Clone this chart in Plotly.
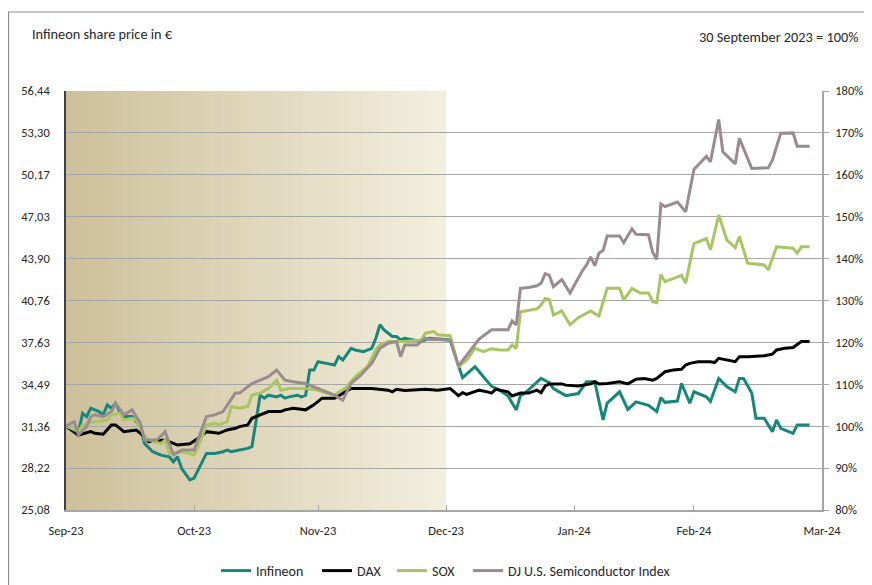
import plotly.graph_objects as go
import pandas as pd

# ---------------- data (30 September 2023 = 100%) ----------------
inf_dates = ["2023-09-30","2023-10-03","2023-10-04","2023-10-05","2023-10-06","2023-10-08","2023-10-09",
             "2023-10-10","2023-10-11","2023-10-12","2023-10-13","2023-10-14","2023-10-16","2023-10-18",
             "2023-10-19","2023-10-21","2023-10-23","2023-10-25","2023-10-26","2023-10-27","2023-10-28",
             "2023-10-30","2023-10-31","2023-11-01","2023-11-03","2023-11-05","2023-11-07","2023-11-08",
             "2023-11-09","2023-11-11","2023-11-13","2023-11-14","2023-11-15","2023-11-16","2023-11-17",
             "2023-11-18","2023-11-20","2023-11-21","2023-11-22","2023-11-23","2023-11-25","2023-11-26",
             "2023-11-27","2023-11-28","2023-11-29","2023-11-30","2023-12-02","2023-12-04","2023-12-05",
             "2023-12-06","2023-12-08","2023-12-09","2023-12-11","2023-12-13","2023-12-14","2023-12-15",
             "2023-12-16","2023-12-18","2023-12-19","2023-12-20","2023-12-21","2023-12-25","2023-12-27",
             "2024-01-01","2024-01-03","2024-01-04","2024-01-07","2024-01-11","2024-01-13","2024-01-15",
             "2024-01-17","2024-01-18","2024-01-19","2024-01-23","2024-01-25","2024-01-26","2024-01-29",
             "2024-02-01","2024-02-03","2024-02-05","2024-02-07","2024-02-08","2024-02-11","2024-02-13",
             "2024-02-15","2024-02-18","2024-02-20","2024-02-21","2024-02-22","2024-02-25","2024-02-26",
             "2024-02-28","2024-02-29","2024-03-03","2024-03-04","2024-03-06","2024-03-08","2024-03-10",
             "2024-03-11","2024-03-12","2024-03-14","2024-03-15","2024-03-17","2024-03-19","2024-03-20",
             "2024-03-21","2024-03-24","2024-03-25","2024-03-28"]
inf_vals = [100.0,98.3,103.1,102.3,104.3,103.5,102.7,
            105.1,104.3,105.5,103.5,102.3,102.3,99.9,
            95.9,93.9,93.1,92.7,91.5,92.7,89.9,
            87.2,87.6,89.5,93.5,93.5,93.9,94.3,
            93.9,94.3,94.7,95.1,101.5,107.4,106.7,
            107.4,107.0,107.4,106.7,107.0,107.4,107.0,
            107.4,113.4,113.4,115.4,115.0,114.6,116.6,
            115.8,118.6,118.2,117.8,118.6,121.0,124.2,
            123.0,121.4,121.4,120.6,121.0,120.2,121.0,
            120.6,114.4,111.6,114.2,109.5,108.6,107.2,
            103.9,107.3,107.8,111.4,110.4,109.0,107.3,
            107.8,110.6,110.6,101.5,105.5,108.2,104.0,
            105.8,105.0,103.5,106.8,105.7,106.0,110.2,
            105.5,108.2,107.0,105.9,111.4,109.4,108.2,
            111.4,111.4,107.9,101.9,101.9,98.7,101.5,
            99.5,98.3,100.3,100.3]

dax_dates = ["2023-09-30","2023-10-03","2023-10-06","2023-10-07","2023-10-09","2023-10-11","2023-10-12",
             "2023-10-14","2023-10-17","2023-10-19","2023-10-20","2023-10-24","2023-10-26","2023-10-27",
             "2023-10-30","2023-11-01","2023-11-03","2023-11-06","2023-11-08","2023-11-10","2023-11-11",
             "2023-11-13","2023-11-14","2023-11-16","2023-11-18","2023-11-21","2023-11-22","2023-11-24",
             "2023-11-27","2023-11-29","2023-12-01","2023-12-04","2023-12-06","2023-12-08","2023-12-13",
             "2023-12-17","2023-12-18","2023-12-19","2023-12-21","2023-12-25","2023-12-26","2023-12-29",
             "2024-01-01","2024-01-03","2024-01-04","2024-01-05","2024-01-08","2024-01-10","2024-01-11",
             "2024-01-12","2024-01-15","2024-01-16","2024-01-18","2024-01-20","2024-01-22","2024-01-23",
             "2024-01-24","2024-01-25","2024-01-28","2024-01-29","2024-02-01","2024-02-04","2024-02-05",
             "2024-02-06","2024-02-08","2024-02-11","2024-02-13","2024-02-15","2024-02-17","2024-02-19",
             "2024-02-20","2024-02-22","2024-02-24","2024-02-26","2024-02-27","2024-02-28","2024-03-01",
             "2024-03-04","2024-03-05","2024-03-06","2024-03-08","2024-03-10","2024-03-11","2024-03-13",
             "2024-03-17","2024-03-19","2024-03-20","2024-03-22","2024-03-24","2024-03-25","2024-03-26",
             "2024-03-28"]
dax_vals = [100.0,97.9,98.7,98.3,98.1,100.3,100.3,
            98.7,99.1,97.5,96.3,96.7,95.9,95.5,
            95.8,97.1,98.7,98.3,99.1,99.5,99.9,
            100.3,101.9,102.7,103.5,103.5,103.9,104.3,
            103.9,105.1,106.7,106.7,107.9,109.0,109.0,
            108.6,108.2,108.8,108.5,108.6,108.8,108.6,
            109.0,107.3,108.0,107.6,108.6,108.2,107.9,
            108.8,108.2,107.2,107.9,107.9,108.6,108.0,
            109.6,110.1,110.1,109.8,109.6,110.1,110.6,
            110.1,110.2,110.6,110.1,111.2,111.4,111.0,
            111.4,113.0,113.4,113.6,114.6,115.0,115.4,
            115.4,115.2,116.2,115.8,115.4,116.6,116.6,
            116.8,117.2,118.2,118.6,118.8,119.6,120.2,
            120.2]

sox_dates = ["2023-09-30","2023-10-03","2023-10-04","2023-10-07","2023-10-08","2023-10-10","2023-10-11",
             "2023-10-13","2023-10-14","2023-10-16","2023-10-17","2023-10-19","2023-10-21","2023-10-23",
             "2023-10-24","2023-10-25","2023-10-28","2023-10-30","2023-10-31","2023-11-01","2023-11-03",
             "2023-11-05","2023-11-06","2023-11-08","2023-11-09","2023-11-11","2023-11-13","2023-11-14",
             "2023-11-16","2023-11-18","2023-11-20","2023-11-21","2023-11-23","2023-11-27","2023-11-30",
             "2023-12-02","2023-12-04","2023-12-07","2023-12-09","2023-12-12","2023-12-14","2023-12-15",
             "2023-12-17","2023-12-21","2023-12-25","2023-12-26","2023-12-28","2023-12-29","2024-01-01",
             "2024-01-03","2024-01-05","2024-01-07","2024-01-09","2024-01-11","2024-01-13","2024-01-15",
             "2024-01-16","2024-01-17","2024-01-18","2024-01-22","2024-01-23","2024-01-24","2024-01-25",
             "2024-01-26","2024-01-28","2024-01-30","2024-02-01","2024-02-04","2024-02-06","2024-02-08",
             "2024-02-11","2024-02-12","2024-02-14","2024-02-16","2024-02-18","2024-02-19","2024-02-20",
             "2024-02-21","2024-02-22","2024-02-26","2024-02-27","2024-02-29","2024-03-03","2024-03-04",
             "2024-03-06","2024-03-08","2024-03-10","2024-03-11","2024-03-13","2024-03-16","2024-03-17",
             "2024-03-18","2024-03-20","2024-03-24","2024-03-25","2024-03-26","2024-03-28"]
sox_vals = [100.0,98.7,100.3,101.1,101.1,101.5,102.7,
            103.1,101.5,101.9,101.5,97.5,96.3,95.9,
            96.7,93.5,93.9,93.5,93.1,95.1,100.3,
            100.7,100.3,101.1,104.7,104.3,104.7,107.4,
            107.9,109.0,111.0,108.6,109.0,109.0,108.6,
            107.9,107.4,109.4,111.8,114.2,118.2,119.4,
            120.2,120.2,120.6,122.2,122.6,121.8,121.6,
            114.2,115.8,118.6,117.8,118.5,118.2,118.2,
            119.4,118.5,127.3,128.0,128.9,130.5,130.2,
            126.5,127.5,124.2,125.9,127.5,126.3,132.9,
            132.9,130.1,132.9,131.8,131.8,129.7,129.5,
            136.2,134.5,136.0,134.1,143.6,144.8,142.1,
            150.4,144.4,142.6,145.3,138.9,138.6,138.5,
            137.3,142.8,142.5,141.3,142.8,142.8]

dj_dates = ["2023-09-30","2023-10-02","2023-10-03","2023-10-05","2023-10-06","2023-10-07","2023-10-09",
            "2023-10-11","2023-10-12","2023-10-14","2023-10-16","2023-10-18","2023-10-19","2023-10-22",
            "2023-10-24","2023-10-26","2023-10-28","2023-10-31","2023-11-03","2023-11-05","2023-11-07",
            "2023-11-10","2023-11-11","2023-11-14","2023-11-16","2023-11-18","2023-11-20","2023-11-22",
            "2023-11-24","2023-11-27","2023-11-29","2023-11-30","2023-12-04","2023-12-06","2023-12-08",
            "2023-12-10","2023-12-13","2023-12-15","2023-12-17","2023-12-19","2023-12-20","2023-12-21",
            "2023-12-24","2023-12-26","2023-12-27","2023-12-29","2024-01-01","2024-01-03","2024-01-05",
            "2024-01-08","2024-01-11","2024-01-15","2024-01-16","2024-01-17","2024-01-18","2024-01-20",
            "2024-01-22","2024-01-23","2024-01-24","2024-01-25","2024-01-26","2024-01-28","2024-01-30",
            "2024-02-02","2024-02-03","2024-02-04","2024-02-05","2024-02-06","2024-02-07","2024-02-08",
            "2024-02-11","2024-02-12","2024-02-14","2024-02-15","2024-02-18","2024-02-19","2024-02-20",
            "2024-02-21","2024-02-22","2024-02-25","2024-02-27","2024-02-29","2024-03-03","2024-03-04",
            "2024-03-06","2024-03-07","2024-03-10","2024-03-11","2024-03-14","2024-03-18","2024-03-19",
            "2024-03-21","2024-03-24","2024-03-25","2024-03-28"]
dj_vals = [100.0,101.1,97.9,99.9,102.3,102.7,102.3,
           103.5,105.5,102.7,103.9,100.7,96.7,96.7,
           98.7,93.1,94.3,94.3,102.3,102.7,103.5,
           107.9,107.9,110.2,111.0,111.8,113.4,111.0,
           110.6,110.2,109.4,109.0,107.4,106.2,110.2,
           111.8,115.0,118.6,119.8,120.2,116.6,119.4,
           119.4,121.0,120.7,120.7,120.5,114.4,117.0,
           120.8,123.0,123.0,125.1,124.2,132.9,133.1,
           133.5,134.1,136.4,136.0,133.3,135.0,131.8,
           137.1,138.5,140.4,138.3,141.3,141.9,145.4,
           145.4,143.8,147.1,145.8,145.7,141.5,139.8,
           153.0,152.4,153.5,151.2,161.3,164.4,163.1,
           173.2,165.5,162.6,168.7,161.5,161.7,163.5,
           169.9,170.0,166.8,166.8]

series_names = ["Infineon", "DAX", "SOX", "DJ U.S. Semiconductor Index"]
series_colors = ["#16877a", "#000000", "#a9c462", "#9a8b8f"]

pct_ticks = [80, 90, 100, 110, 120, 130, 140, 150, 160, 170, 180]
eur_labels = ["25,08", "28,22", "31,36", "34,49", "37,63", "40,76", "43,90",
              "47,03", "50,17", "53,30", "56,44"]
pct_labels = [f"{v}%" for v in pct_ticks]

x_tick_dates = ["2023-09-30", "2023-10-31", "2023-11-30", "2023-12-31",
                "2024-01-31", "2024-02-29", "2024-03-31"]
x_tick_labels = ["Sep-23", "Oct-23", "Nov-23", "Dec-23", "Jan-24", "Feb-24", "Mar-24"]

shade_start, shade_end = "2023-09-30", "2023-12-31"

# ---------------- figure ----------------
FONT = "Carlito, Calibri, Lato, 'Open Sans', sans-serif"
TXT = "#262626"

# page body has an 8px margin -> figure is 8px smaller, screen px = 8 + figure px
W, H = 864, 577
PL, PR, PT, PB = 66, 822, 91, 510          # plot area in screen pixels
PW, PH = PR - PL, PB - PT


def px_x(sx):
    return (sx - PL) / PW


def px_y(sy):
    return (PB - sy) / PH


legend_ids = ["legend", "legend2", "legend3", "legend4"]
legend_left = [221, 322, 397, 473]   # screen x of each legend entry's line sample

fig = go.Figure()
all_x = [inf_dates, dax_dates, sox_dates, dj_dates]
all_y = [inf_vals, dax_vals, sox_vals, dj_vals]
for name, xs, ys, col, lg in zip(series_names, all_x, all_y, series_colors, legend_ids):
    fig.add_trace(go.Scatter(x=xs, y=ys, name=name, mode="lines", legend=lg,
                             line=dict(color=col, width=3), hoverinfo="skip"))

# invisible trace to activate the right-hand percent axis
fig.add_trace(go.Scatter(x=[inf_dates[0]], y=[inf_vals[0]], yaxis="y2", mode="markers",
                         marker=dict(opacity=0), showlegend=False, hoverinfo="skip"))

# gradient background band (Oct-Dec quarter)
n = 90
edges = pd.date_range(shade_start, shade_end, periods=n + 1)
c0 = (205, 192, 154)
c1 = (243, 239, 222)
shapes = []
for i in range(n):
    t = i / (n - 1)
    r, g, b = (round(a + (bb - a) * t) for a, bb in zip(c0, c1))
    shapes.append(dict(type="rect", xref="x", yref="paper", layer="below",
                       x0=edges[i], x1=edges[min(i + 2, n)], y0=0, y1=1,
                       fillcolor=f"rgb({r},{g},{b})", line=dict(width=0)))

# outer chart frame
shapes.append(dict(type="rect", xref="paper", yref="paper", layer="above",
                   x0=px_x(8.5), x1=px_x(900), y0=px_y(620), y1=px_y(12),
                   line=dict(color="#8c8c8c", width=1.2), fillcolor="rgba(0,0,0,0)"))

legend_layout = {}
for lg, lx in zip(legend_ids, legend_left):
    legend_layout[lg] = dict(orientation="h", x=px_x(lx - 5), xanchor="left",
                             y=px_y(571), yanchor="middle", bgcolor="rgba(0,0,0,0)",
                             font=dict(size=14, color=TXT), itemwidth=30)

fig.update_layout(
    width=W, height=H,
    margin=dict(l=PL - 8, r=(W + 8) - PR, t=PT - 8, b=(H + 8) - PB, autoexpand=False),
    paper_bgcolor="white", plot_bgcolor="white",
    font=dict(family=FONT, size=12.5, color=TXT),
    shapes=shapes,
    showlegend=True,
    xaxis=dict(type="date", range=[x_tick_dates[0], x_tick_dates[-1]],
               tickmode="array", tickvals=x_tick_dates, ticktext=x_tick_labels,
               ticks="inside", ticklen=5, tickcolor="#a6a6a6", tickwidth=1,
               showline=True, linecolor="#a6a6a6", linewidth=1.5,
               showgrid=False, zeroline=False, ticklabelstandoff=8, automargin=False,
               tickfont=dict(size=12.5, color=TXT)),
    yaxis=dict(range=[80, 180], tickmode="array", tickvals=pct_ticks, ticktext=eur_labels,
               showgrid=True, gridcolor="#a6a6a6", gridwidth=1.3,
               showline=True, linecolor="#404040", linewidth=1.5,
               ticks="", zeroline=False, ticklabelstandoff=12, automargin=False,
               tickfont=dict(size=12.5, color=TXT)),
    yaxis2=dict(range=[80, 180], overlaying="y", side="right",
                tickmode="array", tickvals=pct_ticks, ticktext=pct_labels,
                showgrid=False, showline=True, linecolor="#a6a6a6", linewidth=1.5,
                ticks="outside", ticklen=5, tickcolor="#a6a6a6",
                zeroline=False, ticklabelstandoff=4, automargin=False,
                tickfont=dict(size=12.5, color=TXT)),
    annotations=[
        dict(text="Infineon share price in €", xref="paper", yref="paper",
             x=px_x(30), y=px_y(34), xanchor="left", yanchor="middle",
             showarrow=False, font=dict(size=14.3, color=TXT)),
        dict(text="30 September 2023 = 100%", xref="paper", yref="paper",
             x=px_x(860), y=px_y(37), xanchor="right", yanchor="middle",
             showarrow=False, font=dict(size=14.3, color=TXT)),
    ],
    **legend_layout,
)

fig.write_html("out.html")
